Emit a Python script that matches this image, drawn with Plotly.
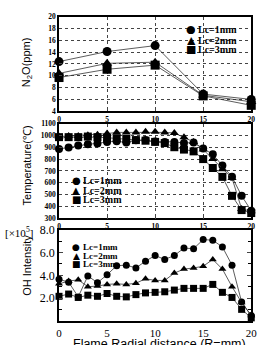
import plotly.graph_objects as go

# ---------------- data ----------------
series_names = ["Lc=1mm", "Lc=2mm", "Lc=3mm"]

x_n2o = [0, 5, 10, 15, 20]
n2o_lc1 = [12.4, 14.1, 15.1, 6.9, 6.0]
n2o_lc2 = [10.4, 12.1, 12.3, 6.7, 5.6]
n2o_lc3 = [9.7, 11.1, 11.8, 6.6, 5.0]

x_r = list(range(21))
temp_lc1 = [885, 898, 915, 925, 932, 945, 950, 940, 958, 960, 948, 945, 945, 935, 940, 890, 840, 745, 650, 490, 365]
temp_lc2 = [990, 995, 995, 1000, 1005, 1015, 1025, 1025, 1025, 1030, 1030, 1025, 1020, 985, 945, 880, 800, 715, 640, 380, 360]
temp_lc3 = [985, 985, 985, 990, 985, 980, 975, 970, 960, 955, 945, 935, 900, 880, 865, 800, 725, 650, 490, 370, 345]

oh_lc1 = [3.65, 3.4, 2.1, 3.95, 3.35, 4.05, 4.85, 4.9, 4.65, 5.25, 5.75, 5.4, 5.75, 6.4, 6.35, 7.15, 7.1, 6.5, 4.9, 1.65, 0.45]
oh_lc2 = [3.25, 3.5, 3.6, 3.0, 3.05, 3.2, 3.25, 3.2, 3.3, 3.7, 3.55, 3.55, 4.2, 4.55, 4.65, 4.8, 5.4, 4.55, 3.0, 1.6, 0.45]
oh_lc3 = [2.15, 2.35, 2.05, 2.25, 2.15, 2.4, 2.15, 2.1, 2.3, 2.45, 2.5, 2.55, 2.7, 2.85, 2.85, 2.85, 3.2, 2.5, 2.05, 1.0, 0.25]

n2o_ticks = [4, 6, 8, 10, 12, 14, 16, 18, 20]
temp_ticks = [300, 400, 500, 600, 700, 800, 900, 1000, 1100]
oh_ticks = [2, 4, 6, 8]
oh_tick_labels = ["2.0", "4.0", "6.0", "8.0"]
x_ticks = [0, 5, 10, 15, 20]

symbols = ["circle", "triangle-up", "square"]
glyphs = ["\u25CF", "\u25B2", "\u25A0"]

W, H = 264, 345
def px(x):
    return x / W
def py(y):
    return 1 - y / H

fig = go.Figure()

panels = [
    ("x", "y", x_n2o, [n2o_lc1, n2o_lc2, n2o_lc3], 9),
    ("x2", "y2", x_r, [temp_lc1, temp_lc2, temp_lc3], 8),
    ("x3", "y3", x_r, [oh_lc1, oh_lc2, oh_lc3], 7),
]
for xa, ya, xs, ser, msize in panels:
    for i, vals in enumerate(ser):
        fig.add_trace(go.Scatter(
            x=xs, y=vals, xaxis=xa, yaxis=ya, mode="lines+markers",
            name=series_names[i], showlegend=False, cliponaxis=False,
            line=dict(color="#333", width=0.8),
            marker=dict(symbol=symbols[i], size=msize, color="black"),
        ))

xdom = [px(58), px(257)]
small_bold = dict(family="Liberation Serif", size=7.5, color="black", weight="bold")
serif_y = dict(family="Liberation Serif", size=12, color="black")
serif_x = dict(family="Liberation Serif", size=11, color="black")

common_axis = dict(showline=True, linecolor="black", linewidth=1.5, mirror=True,
                   zeroline=False)
grid = dict(showgrid=True, gridcolor="#444", griddash="dot", gridwidth=0.8)

fig.update_layout(
    width=W, height=H, margin=dict(l=0, r=0, t=0, b=0),
    paper_bgcolor="white", plot_bgcolor="white", showlegend=False,
    xaxis=dict(domain=xdom, anchor="y", range=[0, 20], tickvals=x_ticks,
               ticks="inside", ticklen=2, tickfont=small_bold, **common_axis, **grid),
    yaxis=dict(domain=[py(108), py(10)], anchor="x", range=[4, 20], tickvals=n2o_ticks,
               ticks="inside", ticklen=3, tickfont=small_bold, **common_axis, **grid),
    xaxis2=dict(domain=xdom, anchor="y2", range=[0, 20], tickvals=x_ticks,
                ticks="inside", ticklen=2, tickfont=small_bold, **common_axis, **grid),
    yaxis2=dict(domain=[py(219), py(120.7)], anchor="x2", range=[300, 1100], tickvals=temp_ticks,
                ticks="inside", ticklen=3, tickfont=small_bold, **common_axis, **grid),
    xaxis3=dict(domain=xdom, anchor="y3", range=[0, 20], tickvals=x_ticks,
                ticks="", tickfont=serif_x, ticklabelstandoff=1, showgrid=False,
                showline=True, linecolor="black", linewidth=1.5, mirror=True, zeroline=False),
    yaxis3=dict(domain=[py(325), py(231)], anchor="x3", range=[0, 8], tickvals=oh_ticks,
                ticktext=oh_tick_labels, ticks="inside", ticklen=4, tickfont=serif_y,
                showgrid=False, showline=True, linecolor="black", linewidth=1.5,
                mirror="ticks", zeroline=False,
                minor=dict(dtick=1, ticks="inside", ticklen=3, tickcolor="black")),
)

sans = "Liberation Sans"
ann = []
# axis titles
ann.append(dict(text="N<sub>2</sub>O(ppm)", x=px(25), y=py(57), textangle=-90,
                font=dict(family=sans, size=11, color="black")))
ann.append(dict(text="Temperature(\u2103)", x=px(25), y=py(164), textangle=-90,
                font=dict(family=sans, size=11, color="black")))
ann.append(dict(text="OH Intensity", x=px(25), y=py(268), textangle=-90,
                font=dict(family=sans, size=11, color="black")))
ann.append(dict(text="[\u00d710<sup>5</sup>]", x=px(33), y=py(233), xanchor="right",
                font=dict(family="Liberation Serif", size=11, color="black")))
ann.append(dict(text="Flame Radial distance (R=mm)", x=px(162), y=py(340), yanchor="top",
                font=dict(family=sans, size=12.5, color="black")))

# legends (text glyphs + labels)
legend_specs = [
    (195, [23, 34, 44], 11, 10, 10),
    (76, [180, 190, 199], 10, 10, 9),
    (76, [249, 258, 266], 9, 9, 8),
]
for gx, ys, gsize, tsize, rowh in legend_specs:
    for i in range(3):
        ann.append(dict(text=glyphs[i], x=px(gx), y=py(ys[i]), xanchor="center",
                        height=rowh,
                        font=dict(family="DejaVu Sans", size=gsize, color="black")))
        ann.append(dict(text=series_names[i], x=px(gx + 5), y=py(ys[i]), xanchor="left",
                        height=rowh,
                        font=dict(family="Liberation Serif", size=tsize, color="black",
                                  weight="bold")))

for a in ann:
    a.update(xref="paper", yref="paper", showarrow=False)
    a.setdefault("xanchor", "center")
    a.setdefault("yanchor", "middle")
fig.update_layout(annotations=ann)

fig.write_html("out.html")
